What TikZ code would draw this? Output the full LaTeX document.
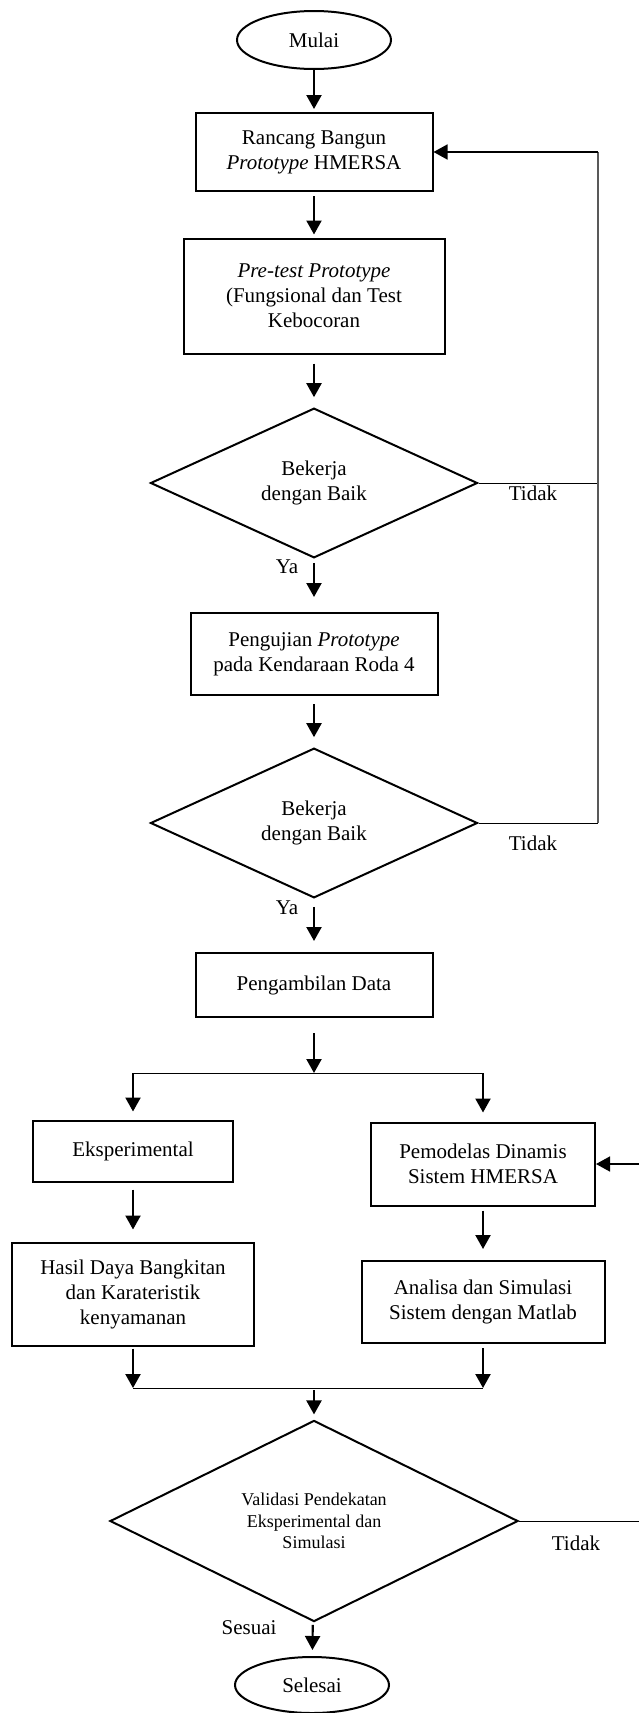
\documentclass[tikz,border=0pt]{standalone}
\usepackage{fontspec}
\setmainfont{Liberation Serif}
\usetikzlibrary{shapes.geometric,arrows.meta}

\tikzset{
  proses/.style={draw, rectangle, line width=2pt, align=center, inner sep=0pt},
  putusan/.style={draw, diamond, line width=2pt, align=center, inner sep=0pt},
  terminal/.style={draw, ellipse, line width=2pt, minimum width=154pt, minimum height=58pt},
  panah/.style={-{Triangle[length=14pt,width=15pt]}, line width=2.2pt},
  tipis/.style={line width=1pt},
  abu/.style={line width=1.4pt, black!65}
}

\begin{document}
\begin{tikzpicture}[x=1pt,y=-1pt,font=\fontsize{21}{25}\selectfont]
\useasboundingbox (0,0) rectangle (638,1713);

\node[terminal] (mulai) at (314,40) {Mulai};
\node[proses, minimum width=237pt, minimum height=78pt] (rancang) at (314,152)
     {Rancang Bangun\\ \textit{Prototype} HMERSA};
\node[proses, minimum width=261pt, minimum height=115pt] (pretest) at (314,296)
     {\textit{Pre-test Prototype}\\ (Fungsional dan Test\\ Kebocoran};
\node[putusan, minimum width=327pt, minimum height=142pt] (cek1) at (314,483)
     {Bekerja\\ dengan Baik};
\node[proses, minimum width=247pt, minimum height=82pt] (uji) at (314,654)
     {Pengujian \textit{Prototype}\\ pada Kendaraan Roda 4};
\node[putusan, minimum width=327pt, minimum height=140pt] (cek2) at (314,823)
     {Bekerja\\ dengan Baik};
\node[proses, minimum width=237pt, minimum height=64pt] (ambil) at (314,985)
     {Pengambilan Data};
\node[proses, minimum width=200pt, minimum height=61pt] (eksp) at (133,1151)
     {Eksperimental};
\node[proses, minimum width=224pt, minimum height=83pt] (model) at (483,1164)
     {Pemodelas Dinamis\\ Sistem HMERSA};
\node[proses, minimum width=242pt, minimum height=103pt] (hasil) at (133,1294)
     {Hasil Daya Bangkitan\\ dan Karateristik\\ kenyamanan};
\node[proses, minimum width=243pt, minimum height=82pt] (analisa) at (483,1302)
     {Analisa dan Simulasi\\ Sistem dengan Matlab};
\node[putusan, minimum width=408pt, minimum height=168pt,
      font=\fontsize{18}{21.5}\selectfont] (validasi) at (314,1521)
     {Validasi Pendekatan\\ Eksperimental dan\\ Simulasi};
\node[terminal, minimum height=56pt] (selesai) at (312,1685) {Selesai};

\node (ya1) at (287,567) {Ya};
\node (ya2) at (287,908) {Ya};
\node (tidak1) at (533,493) {Tidak};
\node (tidak2) at (533,843) {Tidak};
\node (tidak3) at (576,1543) {Tidak};
\node (sesuai) at (249,1628) {Sesuai};

\coordinate (cabang) at (314,1073);
\coordinate (cabkiri) at (133,1073);
\coordinate (cabkanan) at (483,1073);
\coordinate (gabung) at (314,1388);
\coordinate (gabkiri) at (133,1388);
\coordinate (gabkanan) at (483,1388);
\coordinate (kanan) at (598,152);
\coordinate (kanan2) at (645,1164);

\draw[panah, shorten >=3pt] (mulai) -- (rancang);
\draw[panah, shorten <=4pt, shorten >=3pt] (rancang) -- (pretest);
\draw[panah, shorten <=9pt, shorten >=10pt] (pretest) -- (cek1);
\draw[panah, shorten <=4pt, shorten >=15pt] (cek1) -- (uji);
\draw[panah, shorten <=8pt, shorten >=10pt] (uji) -- (cek2);
\draw[panah, shorten <=8pt, shorten >=11pt] (cek2) -- (ambil);
\draw[panah, shorten <=15pt] (ambil) -- (cabang);

\draw[tipis] (cabkiri) -- (cabkanan);
\draw[panah, shorten >=8pt] (cabkiri) -- (eksp);
\draw[panah, shorten >=9pt] (cabkanan) -- (model);
\draw[panah, shorten <=7pt, shorten >=12pt] (eksp) -- (hasil);
\draw[panah, shorten <=4pt, shorten >=11pt] (model) -- (analisa);
\draw[panah, shorten <=2pt] (hasil) -- (gabkiri);
\draw[panah, shorten <=4pt] (analisa) -- (gabkanan);
\draw[tipis] (gabkiri) -- (gabkanan);
\draw[panah, shorten <=2pt, shorten >=5pt] (gabung) -- (validasi);
\draw[panah, shorten <=3pt, shorten >=6pt] (validasi) -- (selesai);

% jalur kembali
\draw[tipis] (cek1.east) -- (cek1.east -| kanan);
\draw[tipis] (cek2.east) -- (cek2.east -| kanan);
\draw[abu] (cek2.east -| kanan) -- (kanan);
\draw[-{Triangle[length=14pt,width=15pt]}, line width=1.5pt] (kanan) -- (rancang.east);
\draw[tipis] (validasi.east) -- (validasi.east -| kanan2) -- (kanan2);
\draw[-{Triangle[length=14pt,width=15pt]}, line width=1.5pt] (kanan2) -- (model.east);
\end{tikzpicture}
\end{document}
